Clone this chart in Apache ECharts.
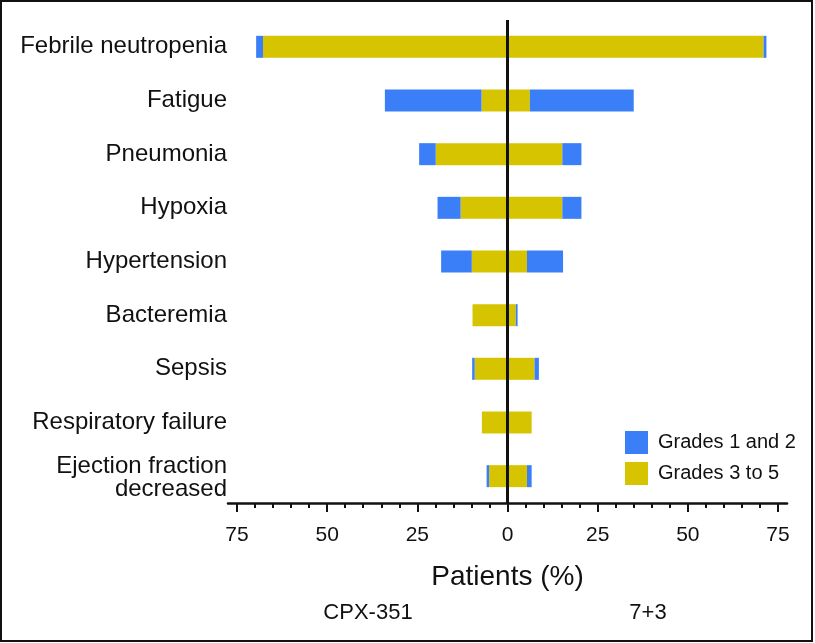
<!DOCTYPE html>
<html>
<head>
<meta charset="utf-8">
<script src="https://cdn.jsdelivr.net/npm/echarts@6/dist/echarts.min.js"></script>
<style>
html,body{margin:0;padding:0;background:#fff;}
#chart{width:815px;height:643px;}
</style>
</head>
<body>
<div id="chart"></div>
<script>
// Data (percent of patients)
var categories = ['Febrile neutropenia','Fatigue','Pneumonia','Hypoxia','Hypertension','Bacteremia','Sepsis','Respiratory failure','Ejection fraction\ndecreased'];
var cpx351Grade3to5 = [67.8, 7.2, 19.9, 13.0, 9.9, 9.7, 9.1, 7.1, 5.1];
var cpx351Grade1and2 = [1.9, 26.8, 4.6, 6.4, 8.5, 0, 0.7, 0, 0.7];
var ctl73Grade3to5 = [71.0, 6.2, 15.2, 15.2, 5.4, 2.3, 7.5, 6.7, 5.4];
var ctl73Grade1and2 = [0.8, 28.8, 5.3, 5.3, 10.0, 0.5, 1.2, 0, 1.3];
var majorTicks = [-75, -50, -25, 0, 25, 50, 75];
var minorTicks = [-70,-65,-60,-55,-45,-40,-35,-30,-20,-15,-10,-5,5,10,15,20,30,35,40,45,55,60,65,70];
var groupLabels = ['CPX-351', '7+3'];
var axisTitle = 'Patients (%)';

var BLUE = '#3A7FF7';
var YELLOW = '#D7C400';
var FONT = '"Liberation Sans", Arial, Helvetica, sans-serif';

function neg(a){ return a.map(function(v){ return -v; }); }

var chart = echarts.init(document.getElementById('chart'), null, {renderer:'canvas'});
var option = {
  backgroundColor: '#fff',
  animation: false,
  textStyle: {fontFamily: FONT},
  grid: {left: 228, right: 28, top: 20, height: 483, containLabel: false},
  legend: {
    orient: 'vertical', left: 620, top: 426,
    itemWidth: 23, itemHeight: 23, itemGap: 8, icon: 'rect',
    data: ['Grades 1 and 2', 'Grades 3 to 5'],
    textStyle: {fontSize: 20, color: '#111', fontFamily: FONT, padding: [0,0,0,5]}
  },
  xAxis: [{
    type: 'value', min: -77.5, max: 77.5,
    position: 'bottom',
    splitLine: {show: false},
    axisLine: {show: true, onZero: false, lineStyle: {color: '#111', width: 2.5}},
    axisTick: {show: true, customValues: majorTicks, length: 9, lineStyle: {color: '#111', width: 2}},
    axisLabel: {customValues: majorTicks, fontSize: 21, color: '#111', margin: 22, fontFamily: FONT,
      formatter: function(v){ return String(Math.abs(v)); }},
    name: axisTitle, nameLocation: 'middle', nameGap: 60,
    nameTextStyle: {fontSize: 28, color: '#111', fontFamily: FONT}
  }, {
    type: 'value', min: -77.5, max: 77.5,
    position: 'bottom',
    splitLine: {show: false},
    axisLine: {show: false, onZero: false},
    axisTick: {show: true, customValues: minorTicks, length: 5, lineStyle: {color: '#111', width: 2}},
    axisLabel: {show: false}
  }],
  yAxis: {
    type: 'category', data: categories, inverse: true,
    axisLine: {show: false}, axisTick: {show: false}, splitLine: {show: false},
    axisLabel: {fontSize: 24, color: '#111', margin: 1, lineHeight: 26, align: 'right', fontFamily: FONT,
      formatter: function(v){
        if (v.indexOf('\n') >= 0) {
          var parts = v.split('\n');
          return '{first|' + parts[0] + '}\n{second|' + parts[1] + '}';
        }
        return v;
      },
      rich: {
        first: {fontSize: 24, lineHeight: 26, padding: [6,0,0,0], color: '#111', fontFamily: FONT, align: 'right'},
        second: {fontSize: 24, lineHeight: 26, color: '#111', fontFamily: FONT, align: 'right'}
      }
    }
  },
  series: [
    {name: 'Grades 3 to 5', type: 'bar', stack: 'all', barWidth: 22, data: neg(cpx351Grade3to5),
      itemStyle: {color: YELLOW},
      markLine: {silent: true, symbol: 'none', label: {show: false},
        lineStyle: {color: '#111', width: 3, type: 'solid'}, data: [{xAxis: 0}]}},
    {name: 'Grades 1 and 2', type: 'bar', stack: 'all', barWidth: 22, data: neg(cpx351Grade1and2),
      itemStyle: {color: BLUE}},
    {name: 'Grades 3 to 5', type: 'bar', stack: 'all', barWidth: 22, data: ctl73Grade3to5,
      itemStyle: {color: YELLOW}},
    {name: 'Grades 1 and 2', type: 'bar', stack: 'all', barWidth: 22, data: ctl73Grade1and2,
      itemStyle: {color: BLUE}}
  ],
  graphic: [
    {type: 'rect', shape: {x: 1, y: 1, width: 811, height: 640},
      style: {fill: 'none', stroke: '#111', lineWidth: 2}, silent: true},
    {type: 'text', x: 368, y: 613, style: {text: groupLabels[0], fontSize: 22, fill: '#111',
      fontFamily: FONT, align: 'center', verticalAlign: 'middle'}},
    {type: 'text', x: 648, y: 613, style: {text: groupLabels[1], fontSize: 22, fill: '#111',
      fontFamily: FONT, align: 'center', verticalAlign: 'middle'}}
  ]
};
chart.setOption(option);
</script>
</body>
</html>
